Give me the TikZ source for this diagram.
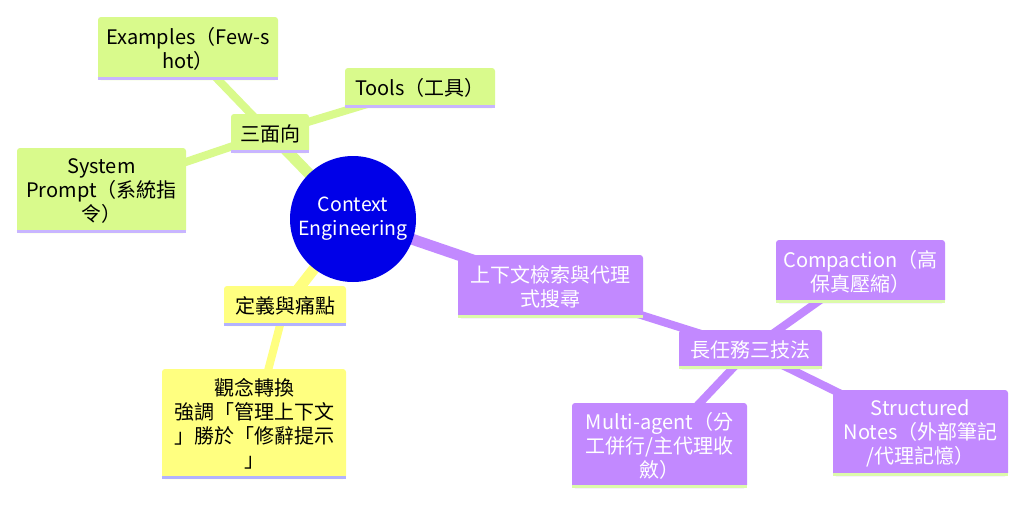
\documentclass[tikz,border=0pt]{standalone}
\usepackage{fontspec}
\setmainfont{Noto Sans CJK TC}
\usetikzlibrary{backgrounds}
\pgfdeclarelayer{canvas}
\pgfsetlayers{canvas,background,main}

\definecolor{cgreen}{RGB}{217,250,140}
\definecolor{cyellow}{RGB}{255,255,128}
\definecolor{cpurple}{RGB}{194,137,255}
\definecolor{croot}{RGB}{0,0,232}
\definecolor{ulgreen}{RGB}{200,181,255}
\definecolor{ulyellow}{RGB}{178,178,255}
\definecolor{ulpurple}{RGB}{220,250,170}

\tikzset{
  box/.style={rectangle, rounded corners=3pt, align=center, inner sep=0pt,
    font=\fontsize{20}{24}\selectfont},
  gbox/.style={box, fill=cgreen, text=black},
  ybox/.style={box, fill=cyellow, text=black},
  pbox/.style={box, fill=cpurple, text=white},
  rootnode/.style={circle, fill=croot, text=white, minimum size=126pt, inner sep=0pt,
    align=center, font=\fontsize{19.5}{24}\selectfont},
  edgeone/.style={line width=11pt},
  edgetwo/.style={line width=8pt},
  uline/.style={line width=3pt},
}

\begin{document}
\begin{tikzpicture}[x=1pt,y=-1pt]
\begin{pgfonlayer}{canvas}
  \fill[white] (0,0) rectangle (1024,506);
\end{pgfonlayer}
\useasboundingbox (0,0) rectangle (1024,506);

\node[rootnode] (root) at (353,219) {Context\\Engineering};

\node[gbox, minimum width=78pt, minimum height=39pt] (sanmian) at (270,133.5) {三面向};
\node[gbox, minimum width=180pt, minimum height=63pt] (examples) at (188,48.5) {Examples（Few-s\\hot）};
\node[gbox, minimum width=150pt, minimum height=40pt] (tools) at (420,88) {Tools（工具）};
\node[gbox, minimum width=169pt, minimum height=85pt] (system) at (101.5,190.5) {System\\Prompt（系統指\\令）};

\node[ybox, minimum width=122pt, minimum height=40pt] (dingyi) at (285,306) {定義與痛點};
\node[ybox, minimum width=184pt, minimum height=110pt] (guannian) at (254,424) {觀念轉換\\強調「管理上下文\\」勝於「修辭提示\\」};

\node[pbox, minimum width=185pt, minimum height=63pt] (shangxia) at (550.5,286.5) {上下文檢索與代理\\式搜尋};
\node[pbox, minimum width=143pt, minimum height=39pt] (changren) at (750.5,349.5) {長任務三技法};
\node[pbox, minimum width=169pt, minimum height=63pt] (compaction) at (860.5,271.5) {Compaction（高\\保真壓縮）};
\node[pbox, minimum width=175pt, minimum height=85pt] (multi) at (659.5,445.5) {Multi-agent（分\\工併行/主代理收\\斂）};
\node[pbox, minimum width=175pt, minimum height=86pt] (structured) at (920.5,433) {Structured\\Notes（外部筆記\\/代理記憶）};

\foreach \n/\c in {sanmian/ulgreen, examples/ulgreen, tools/ulgreen, system/ulgreen,
                   dingyi/ulyellow, guannian/ulyellow,
                   shangxia/ulpurple, changren/ulpurple, compaction/ulpurple, multi/ulpurple, structured/ulpurple}
  \draw[uline, \c] ([yshift=1.5pt]\n.south west) -- ([yshift=1.5pt]\n.south east);

\begin{scope}[on background layer]
  \draw[edgeone, cgreen] (root.center) -- (sanmian.center);
  \draw[edgeone, cyellow] (root.center) -- (dingyi.center);
  \draw[edgeone, cpurple] (root.center) -- (shangxia.center);
  \draw[edgetwo, cgreen] (sanmian.center) -- (examples.center);
  \draw[edgetwo, cgreen] (sanmian.center) -- (tools.center);
  \draw[edgetwo, cgreen] (sanmian.center) -- (system.center);
  \draw[edgetwo, cyellow] (dingyi.center) -- (guannian.center);
  \draw[edgetwo, cpurple] (shangxia.center) -- (changren.center);
  \draw[edgetwo, cpurple] (changren.center) -- (compaction.center);
  \draw[edgetwo, cpurple] (changren.center) -- (multi.center);
  \draw[edgetwo, cpurple] (changren.center) -- (structured.center);
\end{scope}
\end{tikzpicture}
\end{document}
